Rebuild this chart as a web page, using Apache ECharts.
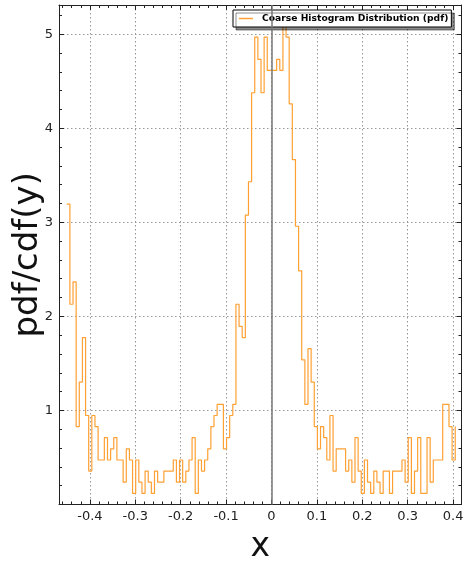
<!DOCTYPE html>
<html><head><meta charset="utf-8">
<script src="https://cdn.jsdelivr.net/npm/echarts@6/dist/echarts.min.js"></script>
<style>html,body{margin:0;padding:0;background:#fff}#c{width:464px;height:565px}</style>
</head><body><div id="c"></div>
<script>
// histogram layout
const binStart = -0.4509;
const binWidth = 0.0069;
// pdf value of each bin (last entry = value at the closing edge)
const density = [
  3.194,2.129,2.366,0.828,1.301,1.775,0.946,0.355,0.946,0.828,
  0.473,0.473,0.710,0.473,0.592,0.710,0.473,0.473,0.237,0.592,
  0.473,0.118,0.473,0.237,0.118,0.355,0.237,0.118,0.355,0.237,
  0.237,0.355,0.355,0.355,0.473,0.237,0.473,0.237,0.355,0.473,
  0.710,0.118,0.473,0.355,0.473,0.592,0.828,0.946,1.065,1.065,
  0.592,0.710,0.946,1.065,2.129,1.893,1.775,3.076,3.431,4.377,
  4.969,4.732,4.377,4.969,4.614,4.614,4.614,4.732,4.614,5.205,
  4.969,4.259,3.667,2.958,2.484,1.538,1.065,1.656,1.301,0.828,
  0.592,0.828,0.710,0.473,0.946,0.355,0.592,0.592,0.592,0.355,
  0.473,0.237,0.710,0.355,0.118,0.473,0.237,0.118,0.355,0.237,
  0.118,0.355,0.355,0.118,0.355,0.355,0.355,0.473,0.237,0.710,
  0.118,0.355,0.710,0.118,0.118,0.710,0.237,0.473,0.473,0.473,
  1.065,1.065,0.828,0.473,0.828
];
const seriesName = 'Coarse Histogram Distribution (pdf)';
const xTicks = [-0.4,-0.3,-0.2,-0.1,0,0.1,0.2,0.3,0.4];
const yTicks = [1,2,3,4,5];
const xLabelName = 'x';
const yLabelName = 'pdf/cdf(y)';

const xMin = -0.468, xMax = 0.4185, yMin = 0, yMax = 5.31;
const xMinor = [];
for (let i = -23; i <= 20; i++) { if (i % 5 !== 0) xMinor.push(+(i*0.02).toFixed(2)); }
const yMinor = [];
for (let i = 1; i <= 26; i++) { if (i % 5 !== 0) yMinor.push(+(i*0.2).toFixed(1)); }

const points = density.map((v, i) => [binStart + i * binWidth, v]);

const font = 'DejaVu Sans';
const lineCol = '#222';
const grid = {left: 59, right: 2.5, top: 5, bottom: 60.5, containLabel: false, outerBoundsMode: 'none'};
function xAx(pos, major, labels) {
  return {
    type: 'value', min: xMin, max: xMax, position: pos,
    axisLine: {show: major, onZero: false, lineStyle: {color: lineCol, width: 1}},
    axisTick: {show: true, inside: true, length: major ? 5 : 3, customValues: major ? xTicks : xMinor,
      lineStyle: {color: lineCol, width: 1}},
    axisLabel: labels ? {show: true, customValues: xTicks, fontFamily: font, fontSize: 13, color: '#222', margin: 6,
      formatter: v => String(+v.toFixed(1))} : {show: false},
    splitLine: labels ? {show: true, lineStyle: {color: '#999', type: [1.5, 2.5], width: 1}} : {show: false},
    name: labels ? xLabelName : '', nameLocation: 'middle', nameGap: 26,
    nameTextStyle: {fontFamily: font, fontSize: 33, color: '#111'}
  };
}
function yAx(pos, major, labels) {
  return {
    type: 'value', min: yMin, max: yMax, position: pos,
    axisLine: {show: major, onZero: false, lineStyle: {color: lineCol, width: 1}},
    axisTick: {show: true, inside: true, length: major ? 5 : 3, customValues: major ? yTicks : yMinor,
      lineStyle: {color: lineCol, width: 1}},
    axisLabel: labels ? {show: true, customValues: yTicks, fontFamily: font, fontSize: 13, color: '#222', margin: 6} : {show: false},
    splitLine: labels ? {show: true, lineStyle: {color: '#999', type: [1.5, 2.5], width: 1}} : {show: false},
    name: labels ? yLabelName : '', nameLocation: 'middle', nameGap: 14, nameRotate: 90,
    nameMoveOverlap: false,
    nameTextStyle: {fontFamily: font, fontSize: 34, color: '#111'}
  };
}

const chart = echarts.init(document.getElementById('c'), null, {renderer: 'canvas'});
chart.setOption({
  animation: false,
  backgroundColor: '#fff',
  grid: grid,
  xAxis: [xAx('bottom', true, true), xAx('bottom', false, false), xAx('top', true, false), xAx('top', false, false)],
  yAxis: [yAx('left', true, true), yAx('left', false, false), yAx('right', true, false), yAx('right', false, false)],
  legend: {
    left: 233, top: 10, padding: [4, 3, 4, 6], itemWidth: 14, itemHeight: 1.5, itemGap: 0,
    backgroundColor: '#fff', borderColor: '#000', borderWidth: 1, borderRadius: 0,
    shadowColor: 'rgba(0,0,0,0.45)', shadowBlur: 0, shadowOffsetX: 3, shadowOffsetY: 3,
    textStyle: {fontFamily: font, fontSize: 9.2, fontWeight: 'bold', color: '#000', padding: [0,0,0,4]},
    data: [{name: seriesName, icon: 'rect', itemStyle: {color: '#ffa033'}}]
  },
  series: [{
    name: seriesName, type: 'line', step: 'end', data: points,
    xAxisIndex: 0, yAxisIndex: 0, symbol: 'none', showSymbol: false,
    lineStyle: {color: '#ffa033', width: 1.2}, itemStyle: {color: '#ffa033'},
    markLine: {silent: true, symbol: 'none', label: {show: false}, animation: false,
      lineStyle: {color: '#777', width: 1.5, type: 'solid'}, data: [{xAxis: 0}]}
  }]
});
</script></body></html>
